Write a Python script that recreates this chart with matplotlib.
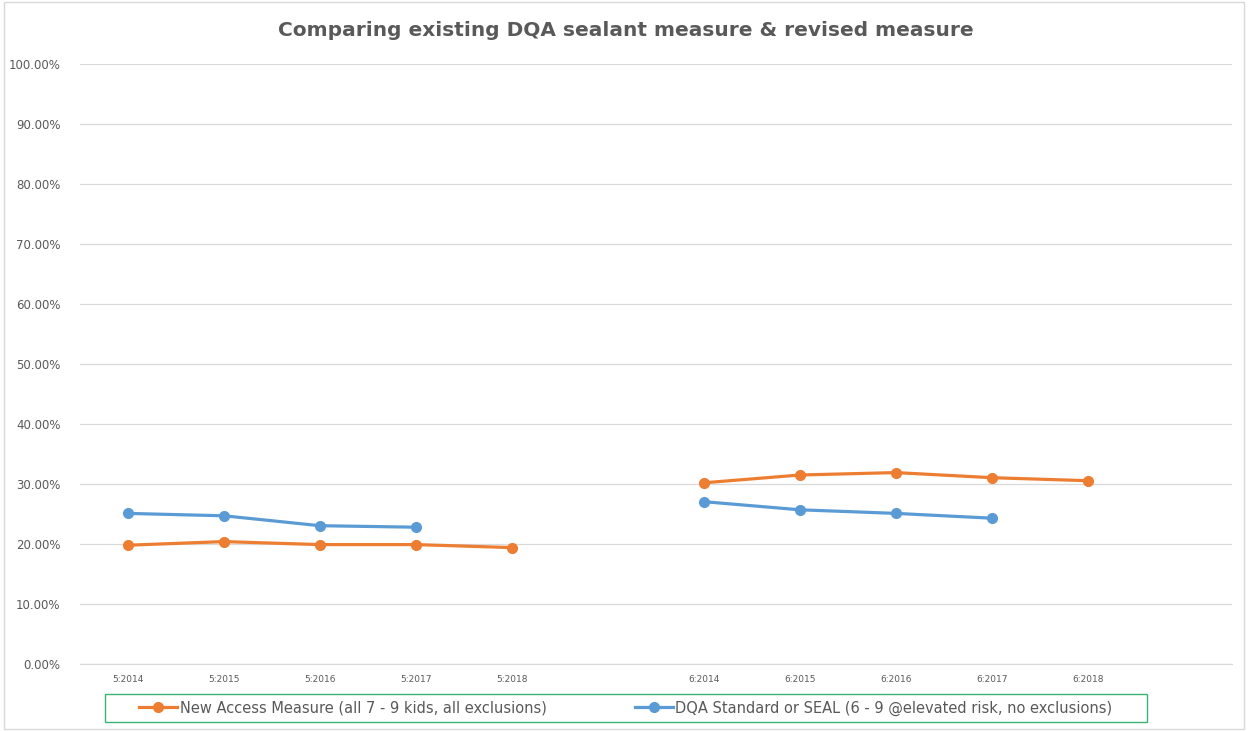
import numpy as np
import matplotlib.pyplot as plt
from matplotlib.ticker import PercentFormatter

# categories (blank slots separate the two age groups)
categories = ["5:2014", "5:2015", "5:2016", "5:2017", "5:2018", "",
              "6:2014", "6:2015", "6:2016", "6:2017", "6:2018", ""]

# values in percent, NaN where there is no point
new_access = [19.8, 20.4, 19.9, 19.9, 19.4, np.nan,
              30.2, 31.5, 31.9, 31.05, 30.55, np.nan]
dqa_standard = [25.1, 24.7, 23.05, 22.8, np.nan, np.nan,
                27.05, 25.7, 25.1, 24.3, np.nan, np.nan]

orange = "#ED7D31"
blue = "#5B9BD5"
grey_text = "#595959"

W, H = 1248, 731
fig = plt.figure(figsize=(W / 100, H / 100), dpi=100)
ax = fig.add_axes([80 / W, 1 - 664 / H, 1152 / W, 600 / H])

x = np.arange(len(categories))
ax.plot(x, new_access, color=orange, lw=2.3, marker="o", ms=7,
        label="New Access Measure (all 7 - 9 kids, all exclusions)")
ax.plot(x, dqa_standard, color=blue, lw=2.3, marker="o", ms=7,
        label="DQA Standard or SEAL (6 - 9 @elevated risk, no exclusions)")

ax.set_xlim(-0.5, len(categories) - 0.5)
ax.set_ylim(0, 100)
ax.set_yticks(np.arange(0, 101, 10))
ax.yaxis.set_major_formatter(PercentFormatter(decimals=2))
ax.set_xticks(x)
ax.set_xticklabels(categories)
ax.tick_params(axis="y", length=0, labelsize=8.5, labelcolor=grey_text, pad=14)
ax.tick_params(axis="x", length=0, labelsize=6.5, labelcolor=grey_text, pad=8)
ax.grid(axis="y", color="#D9D9D9", lw=0.9)
ax.axhline(0, color="#D9D9D9", lw=0.9, clip_on=False, zorder=0)
ax.set_axisbelow(True)
for s in ax.spines.values():
    s.set_visible(False)

fig.text(626 / W, 1 - 30 / H, "Comparing existing DQA sealant measure & revised measure",
         ha="center", va="center", fontsize=14.5, fontweight="bold", color=grey_text)

leg = ax.legend(loc="center", bbox_to_anchor=(626 / W, 1 - 708 / H),
                bbox_transform=fig.transFigure, ncol=2, frameon=False,
                fontsize=10.5, handlelength=2.6, columnspacing=6,
                labelcolor=grey_text, handletextpad=0.2, borderaxespad=0)

# green box around the legend, like the original
fig.patches.append(plt.Rectangle((105 / W, 1 - 722 / H), 1042 / W, 28 / H,
                                 transform=fig.transFigure, fill=False,
                                 edgecolor="#3CB371", lw=1))

# light outer border of the chart area
fig.patches.append(plt.Rectangle((0.003, 0.003), 0.994, 0.994, transform=fig.transFigure,
                                 fill=False, edgecolor="#D9D9D9", lw=1))

fig.savefig("out.png", dpi=100)
